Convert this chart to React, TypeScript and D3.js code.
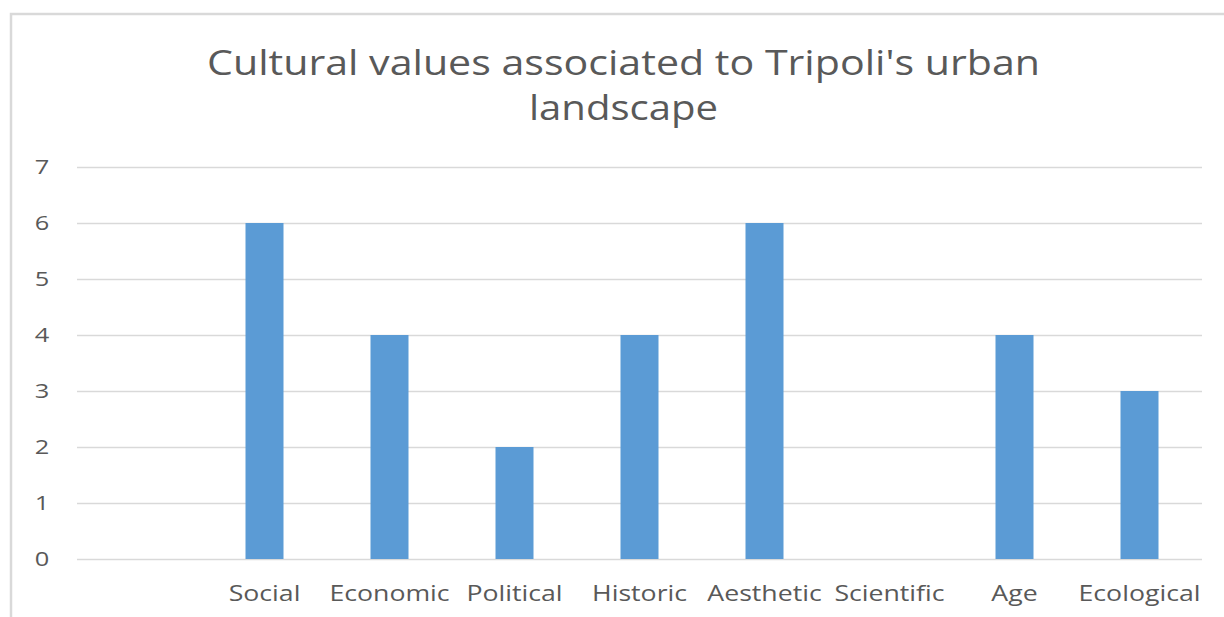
import { useEffect, useRef } from "react";
import * as d3 from "d3";

const width = 1224;
const height = 617;

const margin = {
  top: 167,
  bottom: 58,
  left: 77,
  right: 22,
};

// first slot has no label in the original sheet
const categories = ["", "Social", "Economic", "Political", "Historic", "Aesthetic", "Scientific", "Age", "Ecological"];
const counts = [0, 6, 4, 2, 4, 6, 0, 4, 3];
const yTicks = [0, 1, 2, 3, 4, 5, 6, 7];
const titleLines = ["Cultural values associated to Tripoli's urban", "landscape"];

const font = "'Open Sans', sans-serif";
// the source picture is stretched sideways
const stretch = 1.27;

const App = () => {
  const axisRef = useRef<SVGGElement>(null);
  const bottom = height - margin.bottom;

  const xScale = d3
    .scaleBand()
    .domain(categories.map((c, i) => `${i}`))
    .range([margin.left, width - margin.right])
    .padding(0);

  const yScale = d3.scaleLinear().domain([0, 7]).range([bottom, margin.top]);

  const barW = xScale.bandwidth() * 0.304;

  useEffect(() => {
    const yAxis = d3
      .axisLeft(yScale)
      .tickValues(yTicks)
      .tickSize(-(width - margin.left - margin.right))
      .tickPadding(0)
      .tickFormat(d3.format("d"));
    const g = d3.select(axisRef.current);
    g.call(yAxis as any);
    g.select(".domain").remove();
    g.selectAll(".tick line").attr("stroke", "#d9d9d9").attr("stroke-width", 1.3);
    g.selectAll(".tick text")
      .attr("font-family", font)
      .attr("font-size", "20px")
      .attr("fill", "#595959")
      .attr("text-anchor", "middle")
      .attr("x", null)
      .attr("transform", `translate(-35,0) scale(${stretch},1)`);
  }, []);

  return (
    <svg
      width={width}
      height={height}
      viewBox={`0 0 ${width} ${height}`}
      style={{ position: "absolute", left: 0, top: 0, background: "#fff" }}
    >
      <rect x={11} y={14} width={width + 10} height={height + 10} fill="#fff" stroke="#d9d9d9" strokeWidth={2.5} />
      <g fill="#595959" fontFamily={font} fontSize="34px" textAnchor="middle">
        <text x={623.5} y={75} textLength={833} lengthAdjust="spacingAndGlyphs">{titleLines[0]}</text>
        <text x={623.5} y={120} textLength={189} lengthAdjust="spacingAndGlyphs">{titleLines[1]}</text>
      </g>
      <g className="y-axis" ref={axisRef} transform={`translate(${margin.left},0)`}></g>
      <g className="bars">
        {counts.map((v, i) =>
          v > 0 ? (
            <rect
              key={i}
              x={xScale(`${i}`)! + xScale.bandwidth() / 2 - barW / 2}
              y={yScale(v)}
              width={barW}
              height={bottom - yScale(v)}
              fill="#5b9bd5"
            />
          ) : null
        )}
      </g>
      <g className="x-labels" fill="#595959" fontFamily={font} fontSize="21px" textAnchor="middle">
        {categories.map((c, i) => (
          <text
            key={i}
            transform={`translate(${xScale(`${i}`)! + xScale.bandwidth() / 2},${bottom + 42}) scale(${stretch},1)`}
          >
            {c}
          </text>
        ))}
      </g>
    </svg>
  );
};

export default App;
